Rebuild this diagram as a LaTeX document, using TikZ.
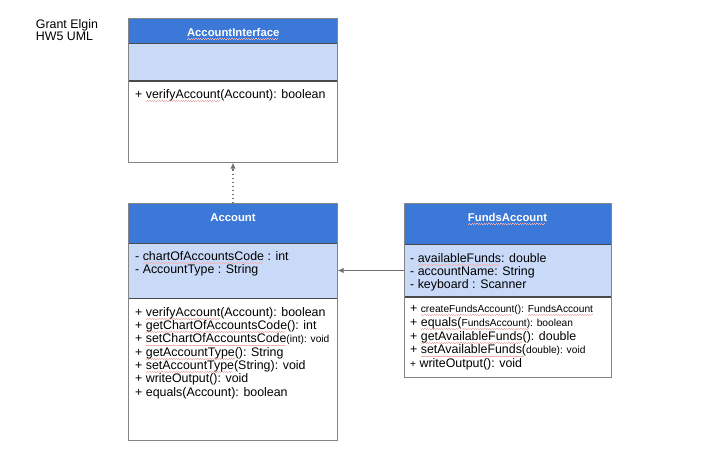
\documentclass[tikz,border=0pt]{standalone}
\usepackage{fontspec}
\setmainfont{Liberation Sans}
\usetikzlibrary{arrows.meta}
\definecolor{hdrblue}{HTML}{3C78D8}
\definecolor{attrblue}{HTML}{C9DAF8}
\definecolor{bordergray}{HTML}{858585}
\definecolor{sepgray}{HTML}{4A4A4A}
\definecolor{linkgray}{HTML}{707070}
\definecolor{sqred}{HTML}{F2B0B0}
\newsavebox\sqbox
\newcommand\sqw[1]{\sbox\sqbox{#1}\rlap{\textcolor{sqred}{\leaders\hbox to 2.4pt{\rule[-3.1pt]{1.2pt}{0.55pt}\rule[-2.5pt]{1.2pt}{0.55pt}}\hskip\wd\sqbox}}\usebox\sqbox}
\newcommand\nsz{\fontsize{12.4}{13.4}\selectfont}
\newcommand\ssz{\fontsize{10.2}{12}\selectfont}
\tikzset{
  hdr/.style={fill=hdrblue, inner sep=0pt, outer sep=0pt, anchor=north west},
  attrsec/.style={fill=attrblue, inner sep=0pt, outer sep=0pt, anchor=north west},
  methsec/.style={fill=white, inner sep=0pt, outer sep=0pt, anchor=north west},
  title/.style={font=\fontsize{11.3}{13}\selectfont\bfseries, text=white, anchor=base, inner sep=0pt},
  txt/.style={font=\nsz, anchor=base west, inner sep=0pt},
  frame/.style={draw=bordergray, line width=1pt},
  sep/.style={draw=sepgray, line width=0.9pt},
  septhick/.style={draw=sepgray, line width=1.7pt},
  link/.style={draw=linkgray, line width=1pt, -{Latex[length=6pt,width=5.5pt]}},
  dotlink/.style={draw=linkgray, line width=1.1pt, dash pattern=on 1.1pt off 3pt, -{Latex[length=6pt,width=5.5pt]}}
}
\begin{document}
\begin{tikzpicture}[x=1pt,y=-1pt]
\useasboundingbox[fill=white] (0,0) rectangle (704,453);

% author
\node[txt] (auth1) at (35.7,28) {Grant Elgin};
\node[txt] (auth2) at (35.7,40.7) {HW5 UML};

% AccountInterface
\node[hdr, minimum width=209pt, minimum height=24.6pt] (aiHead) at (128.7,18.7) {};
\node[attrsec, minimum width=209pt, minimum height=37.4pt] (aiAttr) at (128.7,43.3) {};
\node[methsec, minimum width=209pt, minimum height=82pt] (aiMeth) at (128.7,80.7) {};
\draw[sep] (aiHead.south west) -- (aiHead.south east);
\draw[septhick] (aiAttr.south west) -- (aiAttr.south east);
\draw[frame] (aiHead.north west) rectangle (aiMeth.south east);
\node[title] (aiTitle) at (233.2,36) {\sqw{AccountInterface}};
\node[txt] (aiM1) at (135,98.3) {+ \sqw{verifyAccount}(Account): boolean};

% Account
\node[hdr, minimum width=209.4pt, minimum height=40pt] (accHead) at (128.3,203.3) {};
\node[attrsec, minimum width=209.4pt, minimum height=55.2pt] (accAttr) at (128.3,243.3) {};
\node[methsec, minimum width=209.4pt, minimum height=141.5pt] (accMeth) at (128.3,298.5) {};
\draw[sep] (accHead.south west) -- (accHead.south east);
\draw[septhick] (accAttr.south west) -- (accAttr.south east);
\draw[frame] (accHead.north west) rectangle (accMeth.south east);
\node[title] (accTitle) at (233,221) {Account};
\node[txt] (accA1) at (135,260) {- \sqw{chartOfAccountsCode} : int};
\node[txt] (accA2) at (135,273.8) {- AccountType : String};
\node[txt] (accM1) at (135,316) {+ \sqw{verifyAccount}(Account): boolean};
\node[txt] (accM2) at (135,329.3) {+ \sqw{getChartOfAccountsCode}(): int};
\node[txt] (accM3) at (135,342.7) {+ \sqw{setChartOfAccountsCode}{\ssz(int): void}};
\node[txt] (accM4) at (135,356) {+ \sqw{getAccountType}(): String};
\node[txt] (accM5) at (135,369.3) {+ \sqw{setAccountType}(String): void};
\node[txt] (accM6) at (135,382.7) {+ writeOutput(): void};
\node[txt] (accM7) at (135,396) {+ equals(Account): boolean};

% FundsAccount
\node[hdr, minimum width=207pt, minimum height=41pt] (fHead) at (404,203.3) {};
\node[attrsec, minimum width=207pt, minimum height=52.4pt] (fAttr) at (404,244.3) {};
\node[methsec, minimum width=207pt, minimum height=81pt] (fMeth) at (404,296.7) {};
\draw[sep] (fHead.south west) -- (fHead.south east);
\draw[septhick] (fAttr.south west) -- (fAttr.south east);
\draw[frame] (fHead.north west) rectangle (fMeth.south east);
\node[title] (fTitle) at (507.5,221) {\sqw{FundsAccount}};
\node[txt] (fA1) at (410,262) {- \sqw{availableFunds}: double};
\node[txt] (fA2) at (410,275.3) {- accountName: String};
\node[txt] (fA3) at (410,288.7) {- keyboard : Scanner};
\node[txt] (fM1) at (410,312.5) {+ {\ssz\sqw{createFundsAccount}(): \sqw{FundsAccount}}};
\node[txt] (fM2) at (410,326.3) {+ \sqw{equals(}{\ssz\sqw{FundsAccount)}: boolean}};
\node[txt] (fM3) at (410,340) {+ \sqw{getAvailableFunds}(): double};
\node[txt] (fM4) at (410,353.7) {+ \sqw{setAvailableFunds(}{\ssz double): void}};
\node[txt] (fM5) at (410,367.3) {{\ssz +} writeOutput(): void};

% connectors
\draw[dotlink] (accHead.north) -- (accHead.north |- aiMeth.south);
\draw[link] (fAttr.west) -- (fAttr.west -| accAttr.east);
\end{tikzpicture}
\end{document}
